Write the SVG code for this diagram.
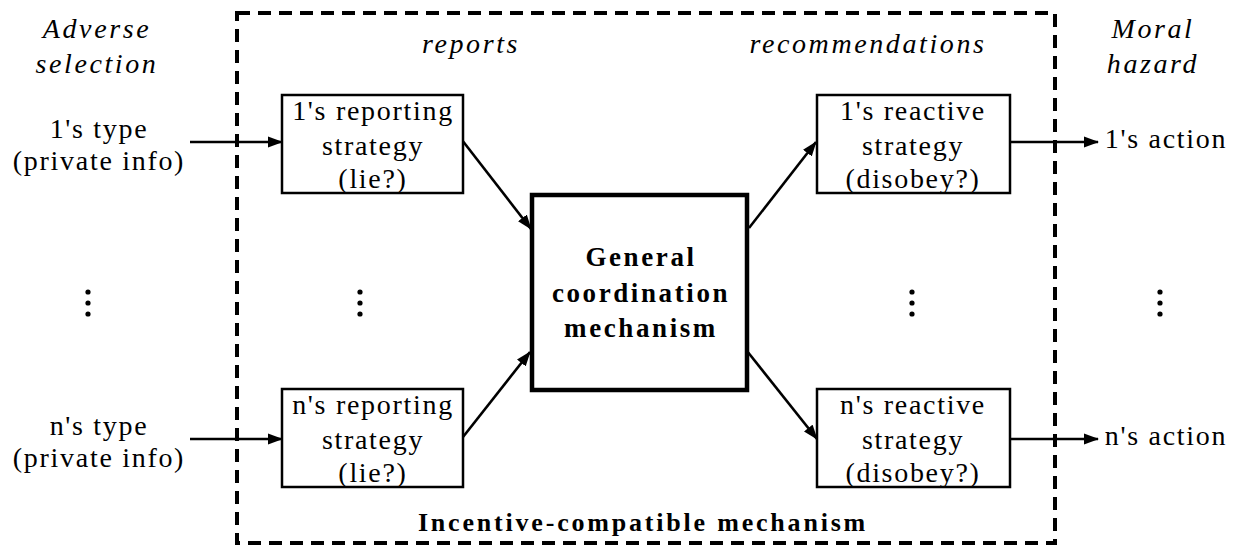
<svg xmlns="http://www.w3.org/2000/svg" width="1242" height="548" viewBox="0 0 1242 548" font-family="'Liberation Serif', 'Times New Roman', Times, serif">
<style>
text{fill:#000;text-anchor:middle}
.t{font-size:28px;letter-spacing:1.7px}
.i{font-size:28px;font-style:italic;letter-spacing:2.6px}
.b{font-size:27px;font-weight:bold;letter-spacing:2.6px}
.box{fill:#fff;stroke:#000;stroke-width:2.5}
.main{fill:#fff;stroke:#000;stroke-width:4.5}
.frame{fill:none;stroke:#000;stroke-width:4;stroke-dasharray:13 8}
.c{stroke:#000;stroke-width:2.6;fill:none;marker-end:url(#ah)}
</style>
<defs>
<marker id="ah" viewBox="0 0 15 12" refX="14" refY="6" markerWidth="15" markerHeight="12" markerUnits="userSpaceOnUse" orient="auto">
<path d="M0,0.5 L15,6 L0,11.5 Z" fill="#000"/>
</marker>
</defs>
<rect width="1242" height="548" fill="#fff"/>
<g id="frame">
<rect class="frame" x="237" y="13" width="818" height="530"/>
<text class="b" x="643" y="531" style="font-size:26px;letter-spacing:2.8px">Incentive-compatible mechanism</text>
</g>
<g id="labels">
<text class="i" x="97" y="38">Adverse</text>
<text class="i" x="97" y="73">selection</text>
<text class="i" x="471" y="53">reports</text>
<text class="i" x="868" y="53">recommendations</text>
<text class="i" x="1153" y="38">Moral</text>
<text class="i" x="1153" y="73">hazard</text>
</g>
<g id="connectors">
<line class="c" x1="190" y1="142" x2="282" y2="142"/>
<line class="c" x1="190" y1="439" x2="282" y2="439"/>
<line class="c" x1="462" y1="140" x2="531" y2="229"/>
<line class="c" x1="463" y1="437" x2="530" y2="352"/>
<line class="c" x1="749" y1="228" x2="816" y2="142"/>
<line class="c" x1="747" y1="351" x2="817" y2="439"/>
<line class="c" x1="1010" y1="142" x2="1098" y2="142"/>
<line class="c" x1="1010" y1="439" x2="1098" y2="439"/>
</g>
<g id="type1">
<text class="t" x="99" y="138">1's type</text>
<text class="t" x="99" y="170">(private info)</text>
</g>
<g id="typen">
<text class="t" x="99" y="435">n's type</text>
<text class="t" x="99" y="467">(private info)</text>
</g>
<g id="report1">
<rect class="box" x="282" y="95" width="181" height="98"/>
<text class="t" x="373" y="120">1's reporting</text>
<text class="t" x="373" y="155">strategy</text>
<text class="t" x="373" y="188">(lie?)</text>
</g>
<g id="reportn">
<rect class="box" x="282" y="389" width="181" height="98"/>
<text class="t" x="373" y="414">n's reporting</text>
<text class="t" x="373" y="449">strategy</text>
<text class="t" x="373" y="482">(lie?)</text>
</g>
<g id="mechanism">
<rect class="main" x="532" y="195" width="215" height="195"/>
<text class="b" x="641" y="266">General</text>
<text class="b" x="641" y="302">coordination</text>
<text class="b" x="641" y="337">mechanism</text>
</g>
<g id="react1">
<rect class="box" x="817" y="95" width="193" height="98"/>
<text class="t" x="913" y="120">1's reactive</text>
<text class="t" x="913" y="155">strategy</text>
<text class="t" x="913" y="188">(disobey?)</text>
</g>
<g id="reactn">
<rect class="box" x="817" y="389" width="193" height="98"/>
<text class="t" x="913" y="414">n's reactive</text>
<text class="t" x="913" y="449">strategy</text>
<text class="t" x="913" y="482">(disobey?)</text>
</g>
<g id="action1"><text class="t" x="1166" y="148">1's action</text></g>
<g id="actionn"><text class="t" x="1166" y="445">n's action</text></g>
<g id="dots" fill="#000">
<circle cx="88" cy="292" r="2.6"/><circle cx="88" cy="303" r="2.6"/><circle cx="88" cy="314" r="2.6"/>
<circle cx="360" cy="292" r="2.6"/><circle cx="360" cy="303" r="2.6"/><circle cx="360" cy="314" r="2.6"/>
<circle cx="912" cy="292" r="2.6"/><circle cx="912" cy="303" r="2.6"/><circle cx="912" cy="314" r="2.6"/>
<circle cx="1160" cy="292" r="2.6"/><circle cx="1160" cy="303" r="2.6"/><circle cx="1160" cy="314" r="2.6"/>
</g>
</svg>
